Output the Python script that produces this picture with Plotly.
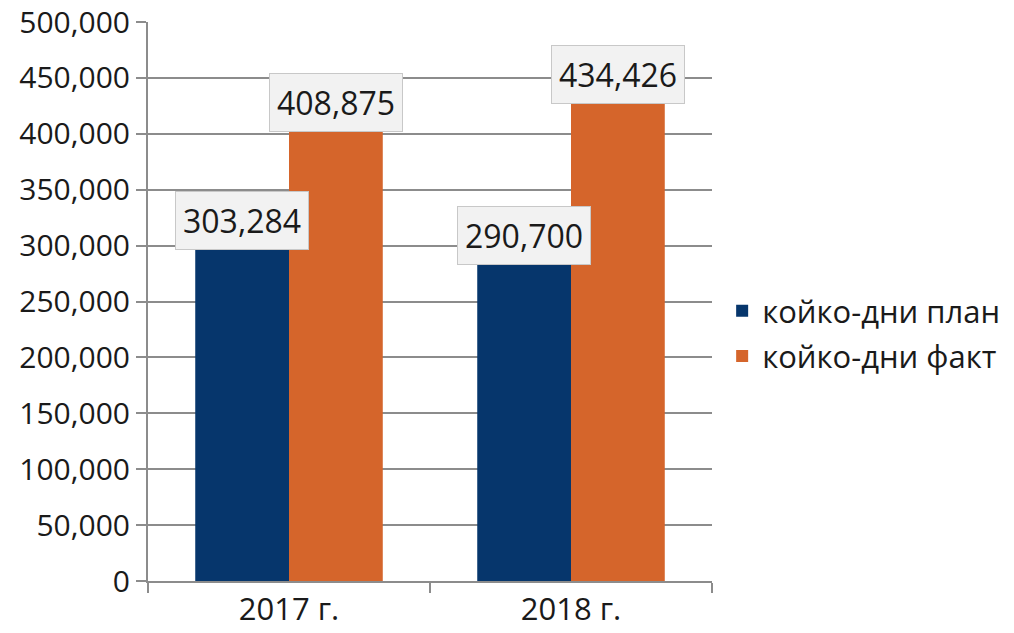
import plotly.graph_objects as go

categories = ["2017 г.", "2018 г."]
plan_name = "койко-дни план"
fact_name = "койко-дни факт"
plan_values = [303284, 290700]
fact_values = [408875, 434426]

NAVY = "#06366c"
ORANGE = "#d5652b"
GRID = "#8c8c8c"
FONT = "Open Sans"

fig = go.Figure()

fig.add_trace(
    go.Bar(
        x=categories,
        y=plan_values,
        name=plan_name,
        marker={"color": NAVY, "line": {"width": 0}},
        legendgroup="plan",
        hoverinfo="skip",
    )
)
fig.add_trace(
    go.Bar(
        x=categories,
        y=fact_values,
        name=fact_name,
        marker={"color": ORANGE, "line": {"width": 0}},
        legendgroup="fact",
        hoverinfo="skip",
    )
)

# boxed data labels over bar tops
annotations = []
for series, shift in ((plan_values, -47), (fact_values, 47)):
    for cat, val in zip(categories, series):
        annotations.append(
            {
                "x": cat,
                "y": val,
                "xref": "x",
                "yref": "y",
                "text": f"{val:,}",
                "showarrow": False,
                "xshift": shift,
                "yshift": 21,
                "yanchor": "middle",
                "font": {"family": FONT, "size": 32, "color": "#1a1a1a"},
                "bgcolor": "#f2f2f2",
                "bordercolor": "#c8c8c8",
                "borderwidth": 1,
                "borderpad": 7,
            }
        )

fig.update_layout(
    width=1014,
    height=633,
    paper_bgcolor="white",
    plot_bgcolor="white",
    margin={"l": 148, "r": 302, "t": 22, "b": 52, "autoexpand": False},
    barmode="group",
    bargap=0.335,
    bargroupgap=0,
    annotations=annotations,
    font={"family": FONT, "color": "#1a1a1a"},
    legend={
        "x": 1.018,
        "xanchor": "left",
        "y": 0.4425,
        "yanchor": "middle",
        "font": {"family": FONT, "size": 31, "color": "#1a1a1a"},
        "tracegroupgap": 2,
        "traceorder": "grouped",
        "itemwidth": 30,
    },
    xaxis={
        "showgrid": False,
        "showline": True,
        "linecolor": GRID,
        "linewidth": 2,
        "ticks": "outside",
        "tickson": "boundaries",
        "ticklen": 10,
        "tickcolor": GRID,
        "tickwidth": 2,
        "tickfont": {"family": FONT, "size": 31, "color": "#1a1a1a"},
    },
    yaxis={
        "range": [0, 500000],
        "dtick": 50000,
        "tickformat": ",",
        "showgrid": True,
        "gridcolor": GRID,
        "gridwidth": 2,
        "zeroline": False,
        "showline": True,
        "linecolor": GRID,
        "linewidth": 2,
        "ticks": "outside",
        "ticklen": 10,
        "tickcolor": GRID,
        "tickwidth": 2,
        "ticklabeloverflow": "allow",
        "tickfont": {"family": FONT, "size": 30, "color": "#1a1a1a"},
    },
)

# drop the default 8px page margin so the figure sits at the window corner
fig.write_html(
    "out.html",
    config={"displayModeBar": False},
    post_script="document.body.style.margin = '0';",
)
